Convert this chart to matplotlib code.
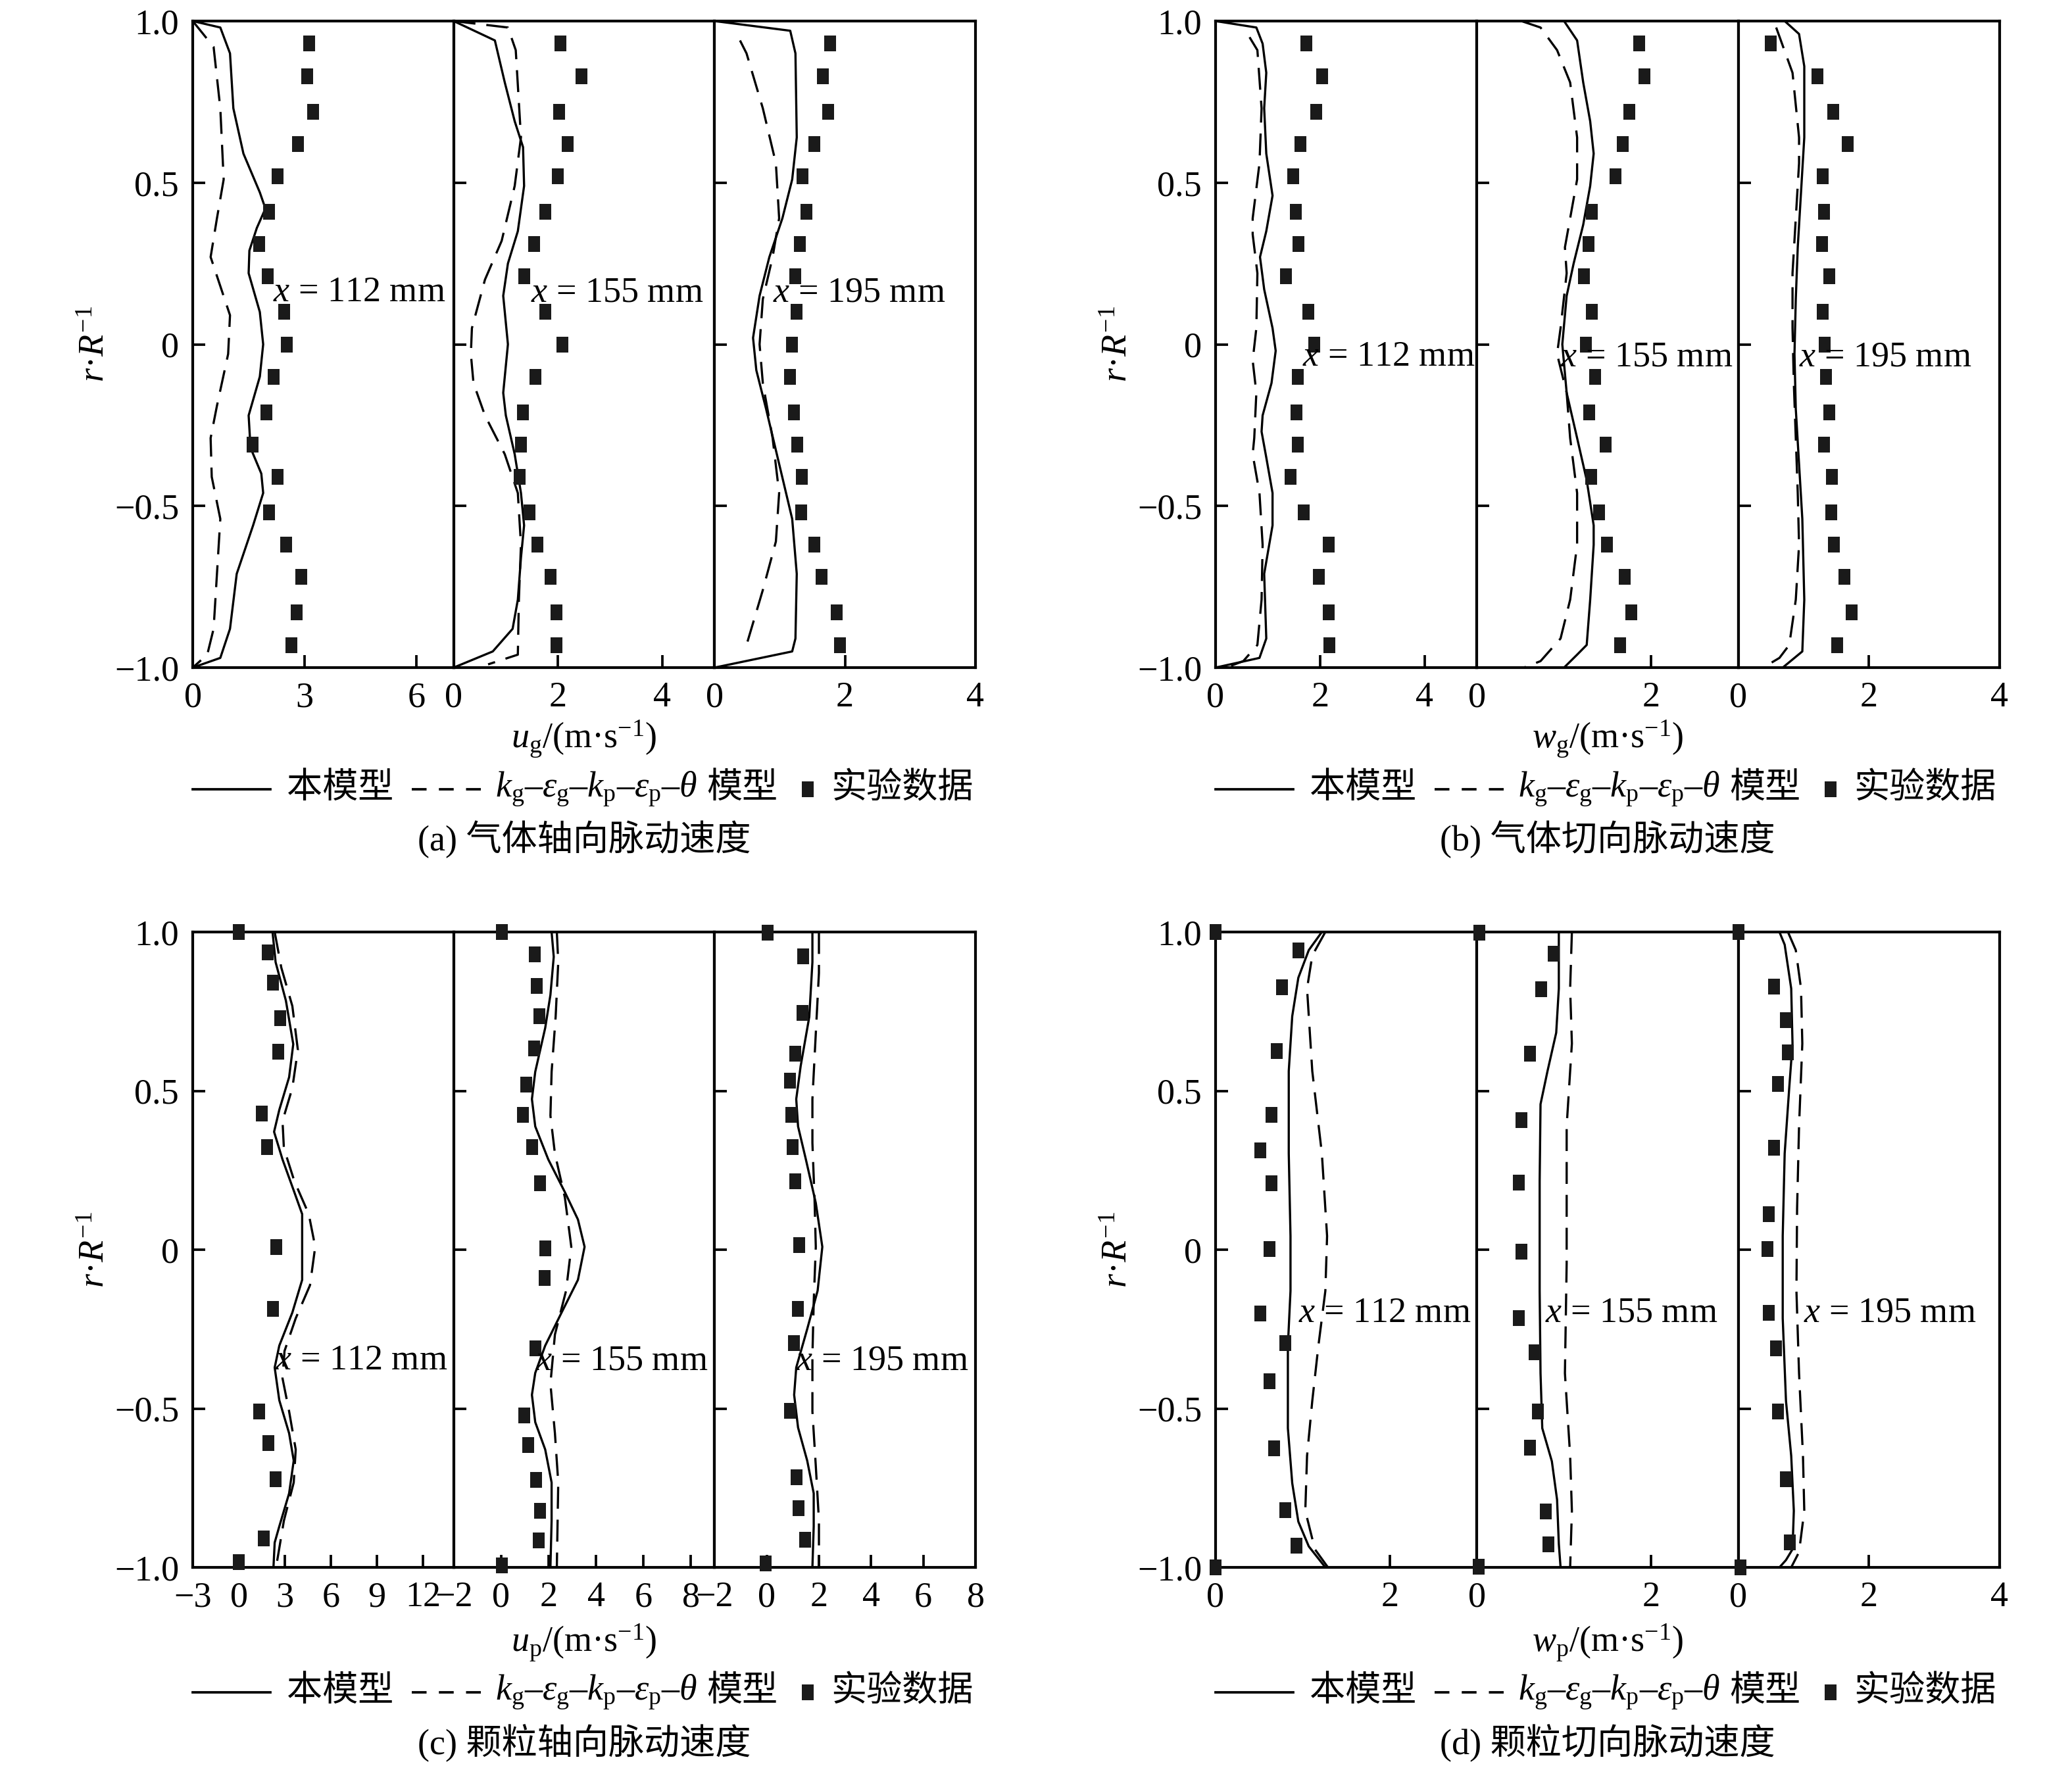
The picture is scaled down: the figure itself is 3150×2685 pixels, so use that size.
import matplotlib
matplotlib.use("Agg")
import matplotlib.pyplot as plt
from matplotlib.lines import Line2D

plt.rcParams["font.family"] = ["Liberation Serif", "Noto Sans CJK SC"]
plt.rcParams["mathtext.fontset"] = "custom"
plt.rcParams["mathtext.rm"] = "Liberation Serif"
plt.rcParams["mathtext.it"] = "Liberation Serif:italic"
plt.rcParams["font.size"] = 13

# ---------------- common ----------------
r_ticks = [1.0, 0.5, 0.0, -0.5, -1.0]
r_tick_labels = ["1.0", "0.5", "0", "\u22120.5", "\u22121.0"]
stations = ["112", "155", "195"]

# radial positions of measurements, panels (a) and (b)
r_exp_ab = [0.93, 0.83, 0.72, 0.62, 0.52, 0.41, 0.31, 0.21, 0.10, 0.0,
            -0.10, -0.21, -0.31, -0.41, -0.52, -0.62, -0.72, -0.83, -0.93]

# ---------------- (a) gas axial fluctuation ----------------
a1_exp = [3.12, 3.07, 3.23, 2.82, 2.28, 2.05, 1.78, 2.01, 2.45, 2.52,
          2.17, 1.98, 1.61, 2.28, 2.05, 2.50, 2.91, 2.79, 2.65]
a2_exp = [2.04, 2.45, 2.02, 2.18, 1.99, 1.76, 1.54, 1.35, 1.76, 2.08,
          1.57, 1.33, 1.29, 1.27, 1.45, 1.60, 1.86, 1.97, 1.97]
a3_exp = [1.77, 1.66, 1.74, 1.53, 1.35, 1.41, 1.31, 1.24, 1.26, 1.19,
          1.16, 1.22, 1.27, 1.34, 1.33, 1.53, 1.64, 1.87, 1.92]

a1_solid_u = [0, 0.74, 1.0, 1.09, 1.36, 1.80, 1.95, 1.72, 1.52, 1.50, 1.80,
              1.89, 1.80, 1.50, 1.55, 1.84, 1.89, 1.62, 1.18, 1.0, 0.74, 0]
a1_solid_r = [1.0, 0.98, 0.90, 0.73, 0.59, 0.47, 0.42, 0.36, 0.29, 0.22, 0.10,
              0.0, -0.10, -0.22, -0.32, -0.40, -0.46, -0.56, -0.71, -0.88, -0.97, -1.0]
a1_dash_u = [0, 0.56, 0.74, 0.83, 0.65, 0.48, 1.0, 0.95, 0.65, 0.48, 0.51,
             0.74, 0.65, 0.56, 0.39, 0]
a1_dash_r = [1.0, 0.92, 0.73, 0.51, 0.39, 0.27, 0.09, -0.03, -0.19, -0.29,
             -0.41, -0.54, -0.71, -0.88, -0.96, -1.0]

a2_solid_u = [0, 0.79, 0.98, 1.17, 1.33, 1.35, 1.23, 1.04, 0.95, 1.04, 0.95,
              1.0, 1.17, 1.29, 1.35, 1.29, 1.23, 1.13, 0.75, 0]
a2_solid_r = [1.0, 0.94, 0.81, 0.69, 0.61, 0.49, 0.35, 0.25, 0.15, 0.0, -0.15,
              -0.22, -0.34, -0.46, -0.56, -0.66, -0.79, -0.88, -0.95, -1.0]
a2_dash_u = [0, 1.04, 1.19, 1.29, 1.17, 0.92, 0.60, 0.35, 0.33, 0.38, 0.60,
             0.98, 1.23, 1.29, 1.25, 1.23, 0.66]
a2_dash_r = [1.0, 0.98, 0.91, 0.64, 0.49, 0.32, 0.20, 0.05, -0.03, -0.12,
             -0.22, -0.34, -0.46, -0.62, -0.79, -0.96, -0.99]

a3_solid_u = [0, 1.16, 1.24, 1.26, 1.19, 1.04, 0.84, 0.69, 0.59, 0.64, 0.79,
              0.99, 1.19, 1.26, 1.24, 1.19, 0]
a3_solid_r = [1.0, 0.97, 0.90, 0.64, 0.51, 0.39, 0.27, 0.15, 0.02, -0.08,
              -0.20, -0.37, -0.54, -0.71, -0.91, -0.95, -1.0]
a3_dash_u = [0.39, 0.49, 0.74, 0.94, 0.99, 0.89, 0.74, 0.69, 0.74, 0.89,
             0.99, 0.94, 0.74, 0.49]
a3_dash_r = [0.94, 0.90, 0.73, 0.56, 0.39, 0.27, 0.14, 0.0, -0.12, -0.29,
             -0.46, -0.61, -0.76, -0.93]

# ---------------- (b) gas tangential fluctuation ----------------
b1_exp = [1.74, 2.04, 1.92, 1.62, 1.49, 1.54, 1.58, 1.35, 1.78, 1.89,
          1.57, 1.55, 1.57, 1.44, 1.69, 2.16, 1.97, 2.17, 2.18]
b2_exp = [1.86, 1.92, 1.75, 1.67, 1.59, 1.32, 1.28, 1.23, 1.32, 1.25,
          1.36, 1.29, 1.48, 1.31, 1.40, 1.49, 1.70, 1.77, 1.64]
b3_exp = [0.50, 1.21, 1.45, 1.67, 1.29, 1.31, 1.28, 1.39, 1.29, 1.32,
          1.34, 1.39, 1.31, 1.43, 1.42, 1.46, 1.62, 1.73, 1.51]

b1_solid_w = [0, 0.78, 0.90, 0.97, 0.93, 0.97, 1.09, 0.97, 0.85, 0.93, 1.09,
              1.15, 1.07, 0.90, 0.88, 0.97, 1.09, 1.09, 0.93, 0.97, 0.84, 0]
b1_solid_r = [1.0, 0.98, 0.93, 0.84, 0.73, 0.59, 0.46, 0.35, 0.27, 0.17, 0.05,
              -0.02, -0.12, -0.22, -0.27, -0.35, -0.46, -0.56, -0.71, -0.91, -0.97, -1.0]
b1_dash_w = [0.65, 0.80, 0.88, 0.84, 0.71, 0.71, 0.80, 0.78, 0.71, 0.78,
             0.74, 0.71, 0.84, 0.90, 0.88, 0.80, 0.53, 0.20]
b1_dash_r = [0.95, 0.91, 0.73, 0.56, 0.39, 0.34, 0.22, 0.05, -0.05, -0.15,
             -0.29, -0.34, -0.46, -0.62, -0.79, -0.93, -0.98, -1.0]

b2_solid_w = [1.0, 1.15, 1.22, 1.30, 1.34, 1.30, 1.22, 1.11, 1.03, 0.98, 1.03,
              1.15, 1.26, 1.34, 1.34, 1.30, 1.26, 1.15, 1.0]
b2_solid_r = [1.0, 0.94, 0.81, 0.69, 0.59, 0.49, 0.37, 0.25, 0.15, 0.0, -0.15,
              -0.29, -0.42, -0.56, -0.62, -0.79, -0.93, -0.96, -1.0]
b2_dash_w = [0.51, 0.73, 0.92, 1.07, 1.15, 1.15, 1.07, 1.01, 1.03, 0.96, 0.92,
             1.03, 1.07, 1.15, 1.15, 1.07, 0.96, 0.73, 0.54]
b2_dash_r = [1.0, 0.98, 0.91, 0.81, 0.64, 0.51, 0.39, 0.30, 0.22, 0.05, -0.03,
             -0.15, -0.29, -0.46, -0.62, -0.79, -0.91, -0.98, -1.0]

b3_solid_w = [0.71, 0.93, 1.01, 1.01, 0.96, 0.91, 0.88, 0.86, 0.88, 0.93,
              0.98, 1.01, 0.98, 0.68]
b3_solid_r = [1.0, 0.96, 0.86, 0.64, 0.47, 0.30, 0.14, -0.03, -0.20, -0.37,
              -0.54, -0.79, -0.95, -1.0]
b3_dash_w = [0.58, 0.83, 0.93, 0.93, 0.88, 0.83, 0.83, 0.85, 0.88, 0.91,
             0.93, 0.88, 0.78, 0.63, 0.38]
b3_dash_r = [0.98, 0.84, 0.64, 0.56, 0.39, 0.22, 0.05, -0.12, -0.29, -0.46,
             -0.62, -0.79, -0.93, -0.97, -1.0]

# ---------------- (c) particle axial fluctuation ----------------
c1_exp_u = [0.0, 1.87, 2.22, 2.68, 2.56, 1.49, 1.83, 2.43, 2.22, 1.32, 1.92,
            2.39, 1.62, 0.0]
c1_exp_r = [1.0, 0.936, 0.841, 0.729, 0.624, 0.429, 0.322, 0.009, -0.186,
            -0.510, -0.609, -0.722, -0.909, -0.983]
c2_exp_u = [0.03, 1.41, 1.50, 1.61, 1.39, 1.05, 0.91, 1.30, 1.63, 1.86, 1.83,
            1.44, 0.97, 1.14, 1.47, 1.63, 1.58, 0.03]
c2_exp_r = [1.0, 0.929, 0.831, 0.734, 0.634, 0.519, 0.424, 0.324, 0.209,
            0.005, -0.088, -0.310, -0.521, -0.614, -0.724, -0.822, -0.916, -0.993]
c3_exp_u = [0.03, 1.40, 1.38, 1.10, 0.88, 0.93, 0.98, 1.08, 1.25, 1.20, 1.05,
            0.88, 1.15, 1.23, 1.48, -0.03]
c3_exp_r = [0.997, 0.924, 0.745, 0.616, 0.533, 0.424, 0.324, 0.216, 0.014,
            -0.186, -0.295, -0.507, -0.716, -0.814, -0.914, -0.988]

c1_solid_u = [2.20, 2.40, 3.07, 3.55, 3.28, 2.64, 2.30, 2.85, 3.62, 4.13, 4.13,
              4.13, 3.49, 2.64, 2.34, 2.64, 3.28, 3.58, 3.28, 2.64, 2.34, 2.26]
c1_solid_r = [1.0, 0.905, 0.784, 0.647, 0.543, 0.440, 0.371, 0.284, 0.181,
              0.112, 0.009, -0.095, -0.198, -0.302, -0.371, -0.474, -0.578,
              -0.664, -0.767, -0.871, -0.922, -1.0]
c1_dash_u = [2.34, 2.77, 3.49, 3.85, 3.49, 2.85, 2.94, 3.62, 4.56, 4.98, 4.64,
             3.71, 2.98, 2.85, 3.28, 3.71, 3.58, 2.94, 2.43]
c1_dash_r = [1.0, 0.888, 0.767, 0.629, 0.509, 0.405, 0.319, 0.216, 0.112,
             0.009, -0.112, -0.216, -0.319, -0.405, -0.509, -0.629, -0.733,
             -0.853, -1.0]

c2_solid_u = [2.13, 2.22, 2.08, 1.86, 1.44, 1.30, 1.44, 1.99, 2.69, 3.24, 3.52,
              3.24, 2.55, 1.86, 1.44, 1.30, 1.44, 1.86, 2.13, 2.13, 2.08]
c2_solid_r = [1.0, 0.922, 0.802, 0.698, 0.560, 0.474, 0.388, 0.284, 0.181,
              0.095, 0.009, -0.095, -0.198, -0.302, -0.388, -0.457, -0.543,
              -0.629, -0.733, -0.853, -1.0]
c2_dash_u = [2.35, 2.41, 2.30, 2.13, 2.08, 2.27, 2.69, 2.96, 2.74, 2.27, 2.08,
             2.27, 2.41, 2.35]
c2_dash_r = [1.0, 0.905, 0.733, 0.560, 0.422, 0.302, 0.164, 0.009, -0.129,
             -0.267, -0.422, -0.578, -0.733, -1.0]

c3_solid_u = [1.75, 1.75, 1.63, 1.30, 1.13, 1.20, 1.50, 1.88, 2.13, 1.95, 1.55,
              1.13, 1.05, 1.20, 1.55, 1.80, 1.80, 1.75]
c3_solid_r = [1.0, 0.905, 0.733, 0.578, 0.474, 0.388, 0.284, 0.147, 0.009,
              -0.129, -0.250, -0.371, -0.457, -0.560, -0.664, -0.767, -0.871, -1.0]
c3_dash_u = [2.0, 2.0, 1.88, 1.75, 1.75, 1.83, 1.88, 1.80, 1.75, 1.75, 1.88,
             2.0, 2.0]
c3_dash_r = [1.0, 0.871, 0.681, 0.474, 0.336, 0.164, 0.009, -0.164, -0.336,
             -0.509, -0.681, -0.853, -1.0]

# ---------------- (d) particle tangential fluctuation ----------------
d1_exp_w = [0.0, 0.95, 0.76, 0.70, 0.64, 0.51, 0.64, 0.62, 0.51, 0.80, 0.62,
            0.67, 0.80, 0.93, 0.0]
d1_exp_r = [1.0, 0.941, 0.827, 0.625, 0.424, 0.313, 0.209, 0.003, -0.201,
            -0.293, -0.415, -0.625, -0.819, -0.931, -1.0]
d2_exp_w = [0.03, 0.88, 0.74, 0.61, 0.51, 0.48, 0.51, 0.48, 0.66, 0.70, 0.61,
            0.79, 0.82, 0.02]
d2_exp_r = [0.997, 0.932, 0.820, 0.618, 0.408, 0.211, -0.007, -0.215, -0.322,
            -0.509, -0.623, -0.825, -0.927, -0.998]
d3_exp_w = [0.0, 0.55, 0.73, 0.76, 0.61, 0.55, 0.47, 0.45, 0.47, 0.58, 0.61,
            0.73, 0.79, 0.03]
d3_exp_r = [1.0, 0.829, 0.723, 0.621, 0.521, 0.320, 0.112, 0.003, -0.199,
            -0.311, -0.509, -0.722, -0.922, -1.0]

d1_solid_w = [1.22, 1.07, 0.95, 0.88, 0.84, 0.84, 0.86, 0.86, 0.83, 0.83, 0.88,
              0.95, 1.07, 1.26]
d1_solid_r = [1.0, 0.943, 0.856, 0.735, 0.562, 0.303, 0.043, -0.130, -0.303,
              -0.562, -0.735, -0.856, -0.934, -1.0]
d1_dash_w = [1.26, 1.11, 1.05, 1.11, 1.22, 1.28, 1.26, 1.18, 1.11, 1.05, 1.03,
             1.14, 1.29]
d1_dash_r = [1.0, 0.926, 0.822, 0.562, 0.303, 0.043, -0.130, -0.303, -0.476,
             -0.649, -0.822, -0.943, -1.0]

d2_solid_w = [0.94, 0.94, 0.91, 0.81, 0.73, 0.72, 0.72, 0.73, 0.75, 0.86, 0.92,
              0.94, 0.96]
d2_solid_r = [1.0, 0.822, 0.683, 0.562, 0.458, 0.216, -0.130, -0.389, -0.562,
              -0.666, -0.787, -0.926, -1.0]
d2_dash_w = [1.09, 1.07, 1.09, 1.03, 1.03, 1.01, 1.07, 1.09, 1.07]
d2_dash_r = [1.0, 0.822, 0.649, 0.389, -0.043, -0.389, -0.649, -0.822, -1.0]

d3_solid_w = [0.63, 0.71, 0.81, 0.83, 0.78, 0.71, 0.68, 0.68, 0.73, 0.81, 0.85,
              0.83, 0.73, 0.63]
d3_solid_r = [1.0, 0.960, 0.822, 0.649, 0.510, 0.303, 0.043, -0.216, -0.476,
              -0.649, -0.822, -0.943, -0.977, -1.0]
d3_dash_w = [0.76, 0.88, 0.96, 0.98, 0.93, 0.90, 0.89, 0.93, 0.99, 1.01, 0.93,
             0.81]
d3_dash_r = [1.0, 0.943, 0.822, 0.649, 0.389, 0.130, -0.130, -0.389, -0.649,
             -0.822, -0.952, -1.0]

# axis ranges and ticks of the three stations in every panel
a_xlims = [(0, 7), (0, 5), (0, 4)]
a_xticks = [[0, 3, 6], [0, 2, 4], [0, 2, 4]]
b_xlims = [(0, 5), (0, 3), (0, 4)]
b_xticks = [[0, 2, 4], [0, 2], [0, 2, 4]]
c_xlims = [(-3, 14), (-2, 9), (-2, 8)]
c_xticks = [[-3, 0, 3, 6, 9, 12], [-2, 0, 2, 4, 6, 8], [-2, 0, 2, 4, 6, 8]]
d_xlims = [(0, 3), (0, 3), (0, 4)]
d_xticks = [[0, 2], [0, 2], [0, 2, 4]]

# where the "x = ... mm" notes sit (data coords of each station)
a_notes = [(2.15, 0.16), (1.48, 0.16), (0.89, 0.16)]
b_notes = [(1.66, -0.04), (0.96, -0.04), (0.93, -0.04)]
c_notes = [(2.34, -0.35), (1.44, -0.35), (1.13, -0.35)]
d_notes = [(0.95, -0.20), (0.78, -0.20), (1.00, -0.20)]

legend_solid = "本模型"
legend_math = ("$k_{\\mathrm{g}}$\u2013$\u03b5_{\\mathrm{g}}$\u2013$k_{\\mathrm{p}}$"
               "\u2013$\u03b5_{\\mathrm{p}}$\u2013$\\theta$")
legend_model = "模型"
legend_exp = "实验数据"

# ---------------- drawing ----------------
W, H = 3150, 2685
fig = plt.figure(figsize=(W / 300, H / 300), dpi=300)
renderer = fig.canvas.get_renderer()

rect_marker = [(-0.39, -0.5), (0.39, -0.5), (0.39, 0.5), (-0.39, 0.5), (-0.39, -0.5)]
LW = 0.8
MS = 5.8


def put_text(x_px, y, s):
    # place text with its left edge at x_px (pixels), return right edge in pixels
    t = fig.text(x_px / W, y, s, ha="left", va="center", fontsize=13)
    return x_px + t.get_window_extent(renderer).width


def draw_legend(left, legend_y):
    x = left * W
    fig.add_artist(Line2D([x / W, (x + 118) / W], [legend_y, legend_y],
                          transform=fig.transFigure, color="k", lw=0.9))
    x = put_text(x + 143, legend_y, legend_solid)
    fig.add_artist(Line2D([(x + 28) / W, (x + 148) / W], [legend_y, legend_y],
                          transform=fig.transFigure, color="k", lw=0.9,
                          ls="--", dashes=(6, 5)))
    x = put_text(x + 155, legend_y, legend_math)
    x = put_text(x + 14, legend_y, legend_model)
    fig.add_artist(Line2D([(x + 45) / W], [legend_y], transform=fig.transFigure,
                          ls="none", marker=rect_marker, ms=MS, color="#1a1a1a",
                          mec="none"))
    put_text(x + 80, legend_y, legend_exp)


def draw_panel(left, bottom, width, height, stations_data, xlims, xticks, notes,
               xlabel, caption, label_y, legend_y, caption_y):
    w = width / 3
    for i, (sx, sr, dx, dr, ex, er) in enumerate(stations_data):
        ax = fig.add_axes([left + i * w, bottom, w, height])
        ax.plot(sx, sr, color="k", lw=LW)
        ax.plot(dx, dr, color="k", lw=LW, ls="--", dashes=(10, 5))
        ax.plot(ex, er, ls="none", marker=rect_marker, ms=MS, color="#1a1a1a",
                mec="none", clip_on=False, zorder=3)
        ax.set_xlim(*xlims[i])
        ax.set_ylim(-1, 1)
        ax.set_xticks(xticks[i])
        ax.set_yticks(r_ticks)
        if i == 0:
            ax.set_yticklabels(r_tick_labels)
        else:
            ax.set_yticklabels([])
        ax.tick_params(direction="in", length=4.5, width=0.9, labelsize=13, pad=5)
        for sp in ax.spines.values():
            sp.set_linewidth(1.0)
        tx, ty = notes[i]
        ax.text(tx, ty, "$x$ = %s mm" % stations[i], fontsize=13,
                ha="left", va="center")
    cx = left + width / 2
    fig.text(cx, label_y, xlabel, ha="center", va="center", fontsize=13)
    fig.text(cx, caption_y, caption, ha="center", va="center", fontsize=13)
    fig.text(left - 0.047, bottom + height / 2, "$r$\u00b7$R^{-1}$", rotation=90,
             ha="center", va="center", fontsize=13)
    draw_legend(left, legend_y)


col1_left, col2_left = 293 / W, 1848 / W
col1_w, col2_w = (1483 - 293) / W, (3040 - 1848) / W
row1_bottom, row1_h = 1 - 1015 / H, (1015 - 32) / H
row2_bottom, row2_h = 1 - 2383 / H, (2383 - 1417) / H

draw_panel(col1_left, row1_bottom, col1_w, row1_h,
           [(a1_solid_u, a1_solid_r, a1_dash_u, a1_dash_r, a1_exp, r_exp_ab),
            (a2_solid_u, a2_solid_r, a2_dash_u, a2_dash_r, a2_exp, r_exp_ab),
            (a3_solid_u, a3_solid_r, a3_dash_u, a3_dash_r, a3_exp, r_exp_ab)],
           a_xlims, a_xticks, a_notes,
           "$u_{\\mathrm{g}}$/(m\u00b7s$^{-1}$)", "(a) 气体轴向脉动速度",
           1 - 1123 / H, 1 - 1200 / H, 1 - 1277 / H)

draw_panel(col2_left, row1_bottom, col2_w, row1_h,
           [(b1_solid_w, b1_solid_r, b1_dash_w, b1_dash_r, b1_exp, r_exp_ab),
            (b2_solid_w, b2_solid_r, b2_dash_w, b2_dash_r, b2_exp, r_exp_ab),
            (b3_solid_w, b3_solid_r, b3_dash_w, b3_dash_r, b3_exp, r_exp_ab)],
           b_xlims, b_xticks, b_notes,
           "$w_{\\mathrm{g}}$/(m\u00b7s$^{-1}$)", "(b) 气体切向脉动速度",
           1 - 1123 / H, 1 - 1200 / H, 1 - 1277 / H)

draw_panel(col1_left, row2_bottom, col1_w, row2_h,
           [(c1_solid_u, c1_solid_r, c1_dash_u, c1_dash_r, c1_exp_u, c1_exp_r),
            (c2_solid_u, c2_solid_r, c2_dash_u, c2_dash_r, c2_exp_u, c2_exp_r),
            (c3_solid_u, c3_solid_r, c3_dash_u, c3_dash_r, c3_exp_u, c3_exp_r)],
           c_xlims, c_xticks, c_notes,
           "$u_{\\mathrm{p}}$/(m\u00b7s$^{-1}$)", "(c) 颗粒轴向脉动速度",
           1 - 2497 / H, 1 - 2573 / H, 1 - 2650 / H)

draw_panel(col2_left, row2_bottom, col2_w, row2_h,
           [(d1_solid_w, d1_solid_r, d1_dash_w, d1_dash_r, d1_exp_w, d1_exp_r),
            (d2_solid_w, d2_solid_r, d2_dash_w, d2_dash_r, d2_exp_w, d2_exp_r),
            (d3_solid_w, d3_solid_r, d3_dash_w, d3_dash_r, d3_exp_w, d3_exp_r)],
           d_xlims, d_xticks, d_notes,
           "$w_{\\mathrm{p}}$/(m\u00b7s$^{-1}$)", "(d) 颗粒切向脉动速度",
           1 - 2497 / H, 1 - 2573 / H, 1 - 2650 / H)

fig.savefig("out.png", dpi=300, facecolor="white")
